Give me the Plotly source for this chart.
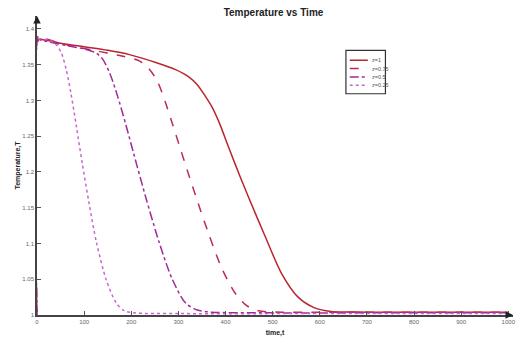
import plotly.graph_objects as go

# ---------------- data ----------------
series_names = ["z=1", "z=0.75", "z=0.5", "z=0.25"]

t_z1 = [0, 3, 10, 50, 100, 150, 196, 252, 294, 322, 340, 357, 372, 386, 408, 430,
        448, 484, 519, 554, 589, 624, 700, 800, 900, 1000]
T_z1 = [1.0, 1.385, 1.385, 1.380, 1.375, 1.370, 1.364, 1.353, 1.343, 1.333, 1.322,
        1.306, 1.290, 1.270, 1.232, 1.195, 1.166, 1.110, 1.058, 1.025, 1.010, 1.005,
        1.004, 1.004, 1.004, 1.004]

t_z075 = [0, 3, 10, 60, 120, 180, 218, 238, 256, 272, 288, 302, 320, 337, 365, 393,
          421, 445, 470, 520, 600, 700, 800, 900, 1000]
T_z075 = [1.0, 1.390, 1.388, 1.378, 1.370, 1.362, 1.355, 1.344, 1.326, 1.298, 1.266,
          1.237, 1.200, 1.166, 1.112, 1.064, 1.030, 1.013, 1.006, 1.004, 1.004, 1.004,
          1.004, 1.004, 1.004]

t_z05 = [0, 3, 10, 60, 100, 126, 140, 155, 170, 189, 205, 231, 259, 287, 315, 340,
         370, 500, 700, 1000]
T_z05 = [1.0, 1.385, 1.384, 1.377, 1.372, 1.366, 1.357, 1.337, 1.308, 1.265, 1.226,
         1.164, 1.102, 1.050, 1.017, 1.007, 1.004, 1.003, 1.003, 1.003]

t_z025 = [0, 3, 10, 30, 42, 52, 62, 72, 84, 96, 110, 126, 147, 168, 185, 205, 300,
          600, 1000]
T_z025 = [1.0, 1.385, 1.386, 1.383, 1.377, 1.366, 1.343, 1.310, 1.262, 1.212, 1.158,
          1.102, 1.049, 1.017, 1.006, 1.003, 1.002, 1.002, 1.002]

x_ticks = [0, 100, 200, 300, 400, 500, 600, 700, 800, 900, 1000]
y_ticks = [1, 1.05, 1.1, 1.15, 1.2, 1.25, 1.3, 1.35, 1.4]
y_tick_text = ["1", "1.05", "1.1", "1.15", "1.2", "1.25", "1.3", "1.35", "1.4"]

# ---------------- styles ----------------
colors = ["#b8262e", "#bb2a5a", "#a02a96", "#c866d0"]
dashes = ["solid", "dash", "dashdot", "dot"]
FONT = "Liberation Sans Narrow, Liberation Sans, Arial, sans-serif"

fig = go.Figure()
for name, t, T, c, d in zip(series_names, [t_z1, t_z075, t_z05, t_z025],
                            [T_z1, T_z075, T_z05, T_z025], colors, dashes):
    fig.add_trace(go.Scatter(x=t, y=T, mode="lines", name=name,
                             line=dict(color=c, width=1.5, dash=d, shape="spline",
                                       smoothing=0.8),
                             showlegend=False))

fig.update_layout(
    width=521, height=342,
    margin=dict(l=37, r=5, t=16, b=27),
    paper_bgcolor="white", plot_bgcolor="white",
    font=dict(family=FONT, color="#333"),
    title=dict(text="<b>Temperature vs Time</b>", x=0.525, xanchor="center",
               y=0.962, yanchor="middle", font=dict(size=10, color="#222", family=FONT)),
    xaxis=dict(range=[0, 1010], tickvals=x_ticks, ticks="inside", ticklen=4,
               tickcolor="#555", showgrid=False, zeroline=False, showline=True,
               linecolor="#444", linewidth=1.5, tickfont=dict(size=6, color="#666"),
               title=dict(text="<b>time,t</b>", font=dict(size=7, color="#222"),
                          standoff=6)),
    yaxis=dict(range=[1, 1.418], tickvals=y_ticks, ticktext=y_tick_text,
               ticks="inside", ticklen=4, tickcolor="#555", showgrid=False,
               zeroline=False, showline=True, linecolor="#444", linewidth=1.5,
               tickfont=dict(size=6, color="#666"),
               title=dict(text="<b>Temperature,T</b>", font=dict(size=7, color="#222"),
                          standoff=1)),
)

# axis arrows
fig.add_annotation(x=0, y=1, xref="paper", yref="paper", ax=0, ay=8, text="",
                   showarrow=True, arrowhead=2, arrowsize=1, arrowwidth=1.5,
                   arrowcolor="#222")
fig.add_annotation(x=1, y=0, xref="paper", yref="paper", ax=-8, ay=0, text="",
                   showarrow=True, arrowhead=2, arrowsize=1, arrowwidth=1.5,
                   arrowcolor="#222")

# custom compact legend (paper coordinates)
lx0, lx1, ly_top, ly_bot = 0.649, 0.732, 0.885, 0.74
fig.add_shape(type="rect", xref="paper", yref="paper", x0=lx0, x1=lx1, y0=ly_bot,
              y1=ly_top, line=dict(color="#333", width=1.2), fillcolor="white")
for i, (name, c, d) in enumerate(zip(series_names, colors, dashes)):
    yy = ly_top - 0.033 - i * 0.028
    fig.add_shape(type="line", xref="paper", yref="paper", x0=lx0 + 0.008,
                  x1=lx0 + 0.046, y0=yy, y1=yy, line=dict(color=c, width=1.5, dash=d))
    fig.add_annotation(x=lx0 + 0.05, y=yy, xref="paper", yref="paper", text=name,
                       showarrow=False, xanchor="left", yanchor="middle",
                       font=dict(size=5.5, color="#555"))

fig.write_html("out.html")
